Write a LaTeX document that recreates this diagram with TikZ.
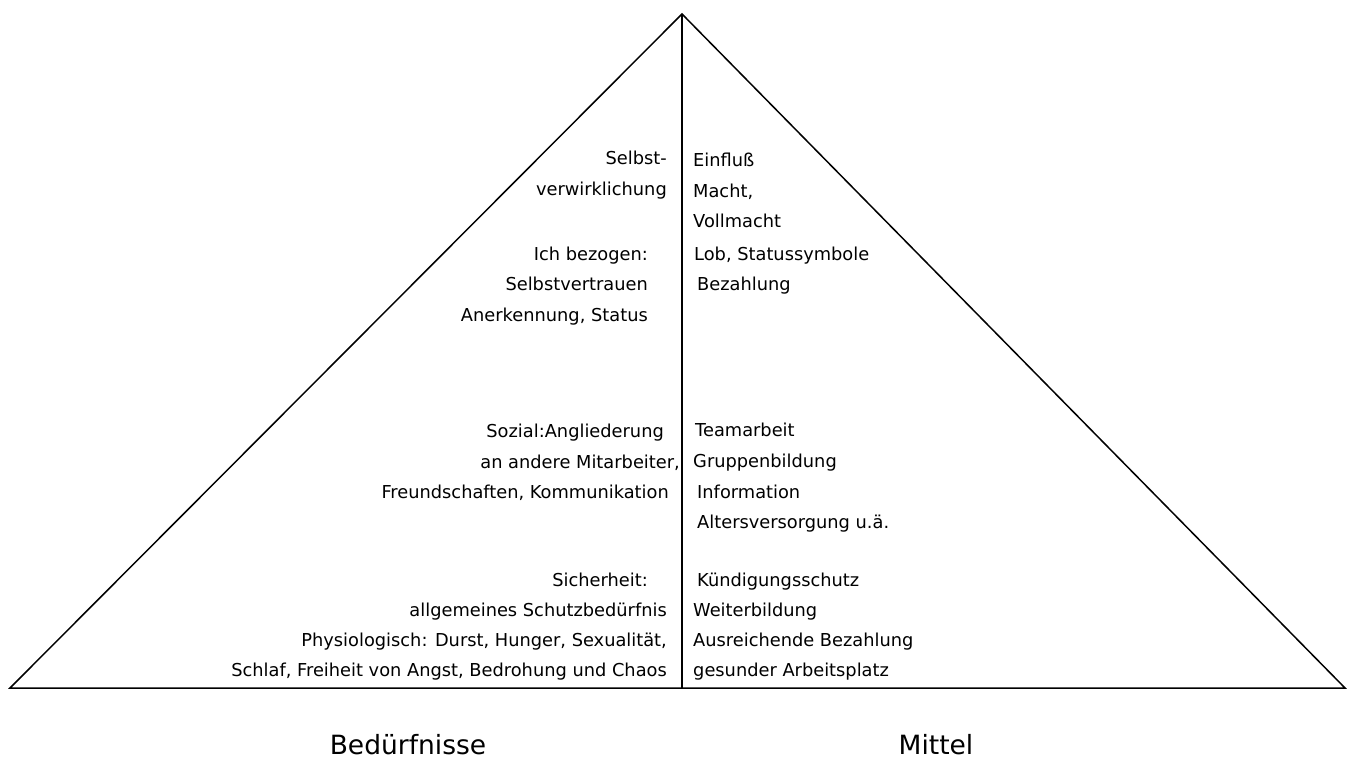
\documentclass[tikz,border=0pt]{standalone}
\usepackage{fontspec}
\setmainfont{DejaVu Sans}
\usetikzlibrary{positioning,calc}

\begin{document}
\begin{tikzpicture}[
  x=1pt, y=-1pt,
  font=\fontsize{17.8}{30.7}\selectfont,
  need/.style={anchor=east, align=right, inner sep=0pt},
  means/.style={anchor=west, align=left, inner sep=0pt},
  heading/.style={font=\fontsize{26.5}{30}\selectfont, inner sep=0pt},
  edge/.style={line width=1.5pt}
]
  \useasboundingbox (0,0) rectangle (1347,762);

  % Pyramid outline
  \coordinate (apex) at (682,14);
  \coordinate (left) at (10,688);
  \coordinate (right) at (1345,688);
  \coordinate (base) at (682,688);
  \draw[edge] (left) -- (apex) -- (right) -- cycle;
  \draw[edge] (apex) -- (base);

  % Left side: needs
  \node[need] (n-self) at (667,175) {Selbst-\\verwirklichung};
  \node[need] (n-ego) at (648,286) {Ich bezogen:\\Selbstvertrauen\\Anerkennung, Status};
  \node[need] (n-social) at (680,462.5) {Sozial:Angliederung\hspace*{16pt}\\an andere Mitarbeiter,\\Freundschaften, Kommunikation\hspace*{11pt}};
  \node[need] (n-safety) at (667,596.5) {Sicherheit:\hspace*{19pt}\\allgemeines Schutzbedürfnis};
  \node[need] (n-body) at (667,656.5) {Physiologisch: Durst, Hunger, Sexualität,\\Schlaf, Freiheit von Angst, Bedrohung und Chaos};

  % Right side: means
  \node[means] (m-self) at (693,190.5) {Einfluß\\Macht,\\Vollmacht};
  \node[means] (m-ego) at (694,270.5) {Lob, Statussymbole\\\hspace*{3pt}Bezahlung};
  \node[means] (m-social) at (693,478) {\hspace*{2pt}Teamarbeit\\Gruppenbildung\\\hspace*{4pt}Information\\\hspace*{4pt}Altersversorgung u.ä.};
  \node[means] (m-safety) at (693,596.5) {\hspace*{4pt}Kündigungsschutz\\Weiterbildung};
  \node[means] (m-body) at (693,656.5) {Ausreichende Bezahlung\\gesunder Arbeitsplatz};

  % Column headings
  \node[heading] (needs) at (408,745) {Bedürfnisse};
  \node[heading] (means) at (936,745) {Mittel};
\end{tikzpicture}
\end{document}
